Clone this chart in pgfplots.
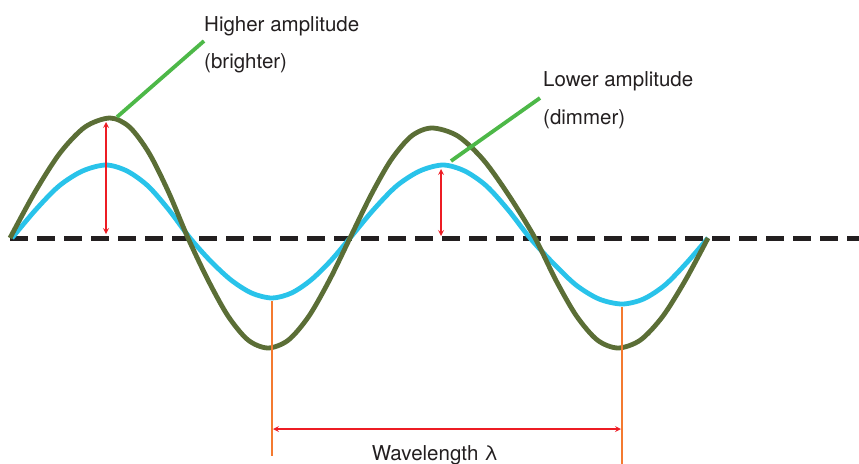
\documentclass[border=0pt]{standalone}
\usepackage{pgfplots}
\pgfplotsset{compat=1.18}
\usepackage{fontspec}
\setmainfont{TeX Gyre Heros}
\definecolor{wavegreen}{HTML}{5B6E36}
\definecolor{waveblue}{HTML}{29C3EA}
\definecolor{leadgreen}{HTML}{4DB848}
\definecolor{arrred}{HTML}{ED1C24}
\definecolor{lineorange}{HTML}{F47A30}
\definecolor{dashblack}{HTML}{231F20}
\begin{document}
\begin{tikzpicture}
\begin{axis}[
  width=859pt, height=463pt, scale only axis,
  xmin=0, xmax=859, ymin=0, ymax=463, y dir=reverse,
  hide axis, clip=false,
]
\coordinate (tl) at (axis cs:0,0);
\coordinate (br) at (axis cs:859,463);

% baseline
\addplot[dashblack, line width=5pt, dash pattern=on 17.5pt off 9.5pt]
  coordinates {(10,238) (859,238)};

% lower amplitude wave
\addplot[waveblue, line width=4.8pt, smooth, tension=0.5] coordinates {
  (12,238) (35.5,210) (59,186) (82.5,171) (106,165)
  (127,171) (148,186) (169,210) (190,238)
  (210.5,261) (231,280) (251.5,293) (272,298)
  (291.5,293) (311,280) (330.5,261) (350,238)
  (373.25,210) (396.5,186) (419.75,171) (443,165)
  (464.75,171) (486.5,186) (508.25,210) (530,238)
  (553,263) (576,285) (599,299) (622,304)
  (643.5,299) (665,285) (686.5,263) (708,238)};

% higher amplitude wave
\addplot[wavegreen, line width=4.8pt, smooth, tension=0.5] coordinates {
  (10,238) (35,192) (60,153) (85,127) (110,118)
  (129.5,127) (149,153) (168.5,192) (188,238)
  (208,280) (228,316) (248,340) (268,348)
  (288.5,340) (309,316) (329.5,280) (350,238)
  (370.5,196) (391,160) (411.5,136) (432,128)
  (457.75,136) (483.5,160) (509.25,196) (535,238)
  (555.75,280) (576.5,316) (597.25,340) (618,348)
  (640.5,340) (663,316) (685.5,280) (708,238)};

% amplitude arrows
\addplot[arrred, line width=1.6pt, <->, >=stealth] coordinates {(106,122) (106,234)};
\addplot[arrred, line width=1.6pt, <->, >=stealth] coordinates {(441,169) (441,236)};

% wavelength markers
\addplot[lineorange, line width=1.8pt] coordinates {(272,301) (272,456)};
\addplot[lineorange, line width=1.8pt] coordinates {(622,307) (622,470)};
\addplot[arrred, line width=1.6pt, <->, >=stealth] coordinates {(273,429) (621,429)};

% leader lines
\addplot[leadgreen, line width=3.8pt] coordinates {(117,117) (204,41)};
\addplot[leadgreen, line width=3.8pt] coordinates {(451,161) (540,98)};

% labels
\tikzset{lbl/.style={inner sep=0pt, font=\fontsize{20.5}{24}\selectfont, text=dashblack}}
\node[lbl, anchor=base west] at (axis cs:204,31) {Higher amplitude};
\node[lbl, anchor=base west] at (axis cs:204,68) {(brighter)};
\node[lbl, anchor=base west] at (axis cs:543,86) {Lower amplitude};
\node[lbl, anchor=base west] at (axis cs:543,124) {(dimmer)};
\node[lbl, anchor=base] at (axis cs:435,460) {Wavelength λ};
\end{axis}
\pgfresetboundingbox
\path[use as bounding box] (tl) rectangle (br);
\end{tikzpicture}
\end{document}
